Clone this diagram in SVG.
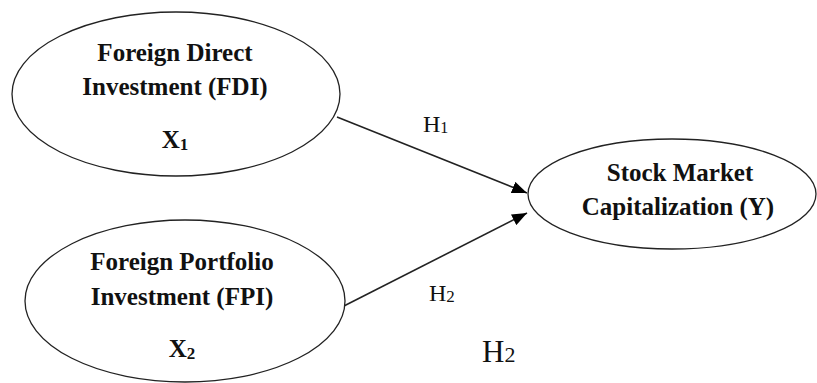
<svg xmlns="http://www.w3.org/2000/svg" width="817" height="383" viewBox="0 0 817 383">
<defs>
<style>
.node ellipse{fill:#fff;stroke:#222;stroke-width:1.3}
.t{font-family:"Liberation Serif","Times New Roman",serif;font-weight:bold;font-size:25px;fill:#111;text-anchor:middle}
.h{font-family:"Liberation Serif","Times New Roman",serif;font-size:24px;fill:#111}
.big{font-size:31px}
.edge{stroke:#222;stroke-width:1.6;fill:none;marker-end:url(#arr)}
</style>
<marker id="arr" markerUnits="userSpaceOnUse" markerWidth="16" markerHeight="12" refX="15" refY="6" orient="auto">
<path d="M0,0 L15,6 L0,12 z" fill="#000"/>
</marker>
</defs>
<rect width="817" height="383" fill="#fff"/>
<g id="connectors">
<line class="edge" x1="337" y1="117" x2="527" y2="193"/>
<line class="edge" x1="338" y1="309" x2="527" y2="213"/>
</g>
<g id="fdi" class="node">
<ellipse cx="176" cy="94" rx="164" ry="82"/>
<text class="t" x="175" y="61">Foreign Direct</text>
<text class="t" x="175" y="95">Investment (FDI)</text>
<text class="t" x="175" y="148">X<tspan font-size="17" dy="2">1</tspan></text>
</g>
<g id="fpi" class="node">
<ellipse cx="185" cy="301" rx="160" ry="81"/>
<text class="t" x="182" y="270">Foreign Portfolio</text>
<text class="t" x="182" y="305">Investment (FPI)</text>
<text class="t" x="182" y="357">X<tspan font-size="17" dy="2">2</tspan></text>
</g>
<g id="smc" class="node">
<ellipse cx="672" cy="194" rx="144" ry="55"/>
<text class="t" x="680" y="181">Stock Market</text>
<text class="t" x="678" y="215">Capitalization (Y)</text>
</g>
<g id="labels">
<text class="h" x="423" y="132">H<tspan font-size="16" dy="1">1</tspan></text>
<text class="h" x="429" y="301">H<tspan font-size="17" dy="1">2</tspan></text>
<text class="h big" x="482" y="362">H<tspan font-size="22">2</tspan></text>
</g>
</svg>
